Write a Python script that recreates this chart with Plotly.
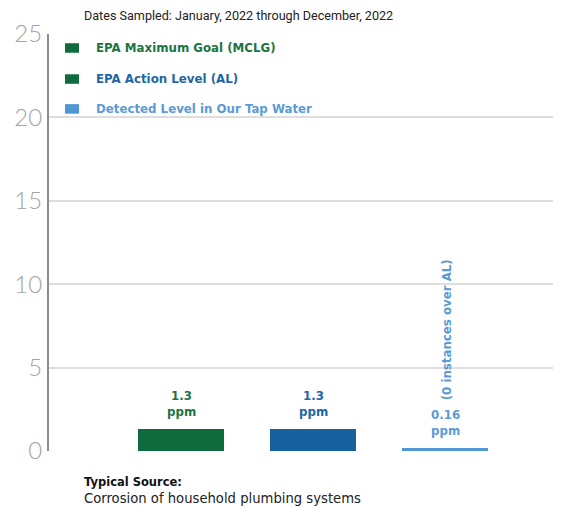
import plotly.graph_objects as go

# ---- data ----
categories = ["EPA Maximum Goal (MCLG)", "EPA Action Level (AL)", "Detected Level in Our Tap Water"]
values = [1.3, 1.3, 0.16]
value_labels = ["1.3", "1.3", "0.16"]
unit_label = "ppm"
bar_colors = ["#0F6B3B", "#17619E", "#4F97D3"]
text_colors = ["#1B7443", "#1E67A4", "#5B9BD5"]
legend_square_colors = ["#0F6B3B", "#0F6B3B", "#4F97D3"]
legend_levels = [24.16, 22.3, 20.51]
y_ticks = [0, 5, 10, 15, 20, 25]
note_text = "(0 instances over AL)"
title_text = "Dates Sampled: January, 2022 through December, 2022"
source_title = "Typical Source:"
source_text = "Corrosion of household plumbing systems"

x_pos = [1, 2, 3]
BOLD = "DejaVu Sans"
BSIZE = 11.8
PLOT_W = 512

fig = go.Figure()
fig.add_trace(go.Bar(
    x=x_pos, y=values, width=0.655,
    marker=dict(color=bar_colors, line=dict(width=0)),
    hoverinfo="skip", showlegend=False,
))

annotations = []
for xp, v, lab, c in zip(x_pos, values, value_labels, text_colors):
    annotations.append(dict(
        x=xp, y=v, xref="x", yref="y", text=lab, showarrow=False,
        yanchor="middle", xanchor="center", yshift=33,
        font=dict(family=BOLD, size=BSIZE, color=c, weight="bold"),
    ))
    annotations.append(dict(
        x=xp, y=v, xref="x", yref="y", text=unit_label, showarrow=False,
        yanchor="middle", xanchor="center", yshift=17.5,
        font=dict(family=BOLD, size=BSIZE, color=c, weight="bold"),
    ))
# rotated note above detected value
annotations.append(dict(
    x=x_pos[2], y=values[2], xref="x", yref="y", text=note_text, showarrow=False,
    textangle=-90, yanchor="middle", xanchor="center", yshift=118, xshift=2,
    font=dict(family=BOLD, size=BSIZE, color=text_colors[2], weight="bold"),
))

# legend (custom)
shapes = []
for name, lv, sc, tc in zip(categories, legend_levels, legend_square_colors, text_colors):
    shapes.append(dict(
        type="rect", xref="paper", yref="y",
        x0=16 / PLOT_W, x1=30 / PLOT_W,
        y0=lv - 0.285, y1=lv + 0.285,
        fillcolor=sc, line=dict(width=0),
    ))
    annotations.append(dict(
        x=45 / PLOT_W, y=lv, xref="paper", yref="y", text=name, showarrow=False,
        xanchor="left", yanchor="middle",
        font=dict(family=BOLD, size=BSIZE, color=tc, weight="bold"),
    ))

annotations.append(dict(
    x=33 / PLOT_W, y=1, xref="paper", yref="paper", text=title_text, showarrow=False,
    xanchor="left", yanchor="middle", yshift=19,
    font=dict(family="Roboto", size=12.6, color="#222222"),
))
annotations.append(dict(
    x=33 / PLOT_W, y=0, xref="paper", yref="paper", text=source_title,
    showarrow=False, xanchor="left", yanchor="middle", yshift=-30.7,
    font=dict(family="DejaVu Sans", size=11.5, color="#111111", weight="bold"),
))
annotations.append(dict(
    x=33 / PLOT_W, y=0, xref="paper", yref="paper", text=source_text,
    showarrow=False, xanchor="left", yanchor="middle", yshift=-47,
    font=dict(family="DejaVu Sans", size=13.2, color="#222222"),
))

fig.update_layout(
    width=553, height=499,
    margin=dict(l=41, r=0, t=26, b=56, pad=0),
    paper_bgcolor="white", plot_bgcolor="white",
    xaxis=dict(range=[0, PLOT_W / 132], showgrid=False, zeroline=False,
               showticklabels=False, showline=False, fixedrange=True),
    yaxis=dict(range=[0, 25], tickvals=y_ticks, showgrid=True,
               gridcolor="#dedede", gridwidth=1.5, zeroline=False,
               showline=True, linecolor="#8c8c8c", linewidth=2,
               ticks="", ticklabelstandoff=0,
               tickfont=dict(family="Lato", size=24, color="#a3a3a3", weight=300)),
    shapes=shapes, annotations=annotations,
    bargap=0,
)

fig.write_html("out.html")
